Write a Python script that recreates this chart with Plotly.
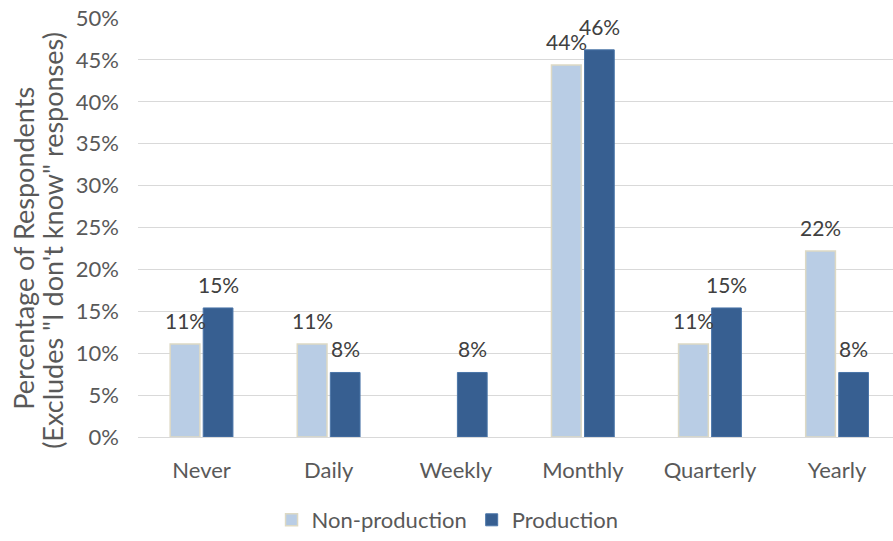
import plotly.graph_objects as go

categories = ["Never", "Daily", "Weekly", "Monthly", "Quarterly", "Yearly"]
non_production = [11.1, 11.1, 0.0, 44.4, 11.1, 22.2]
production = [15.4, 7.7, 7.7, 46.2, 15.4, 7.7]

def labels(vals):
    return [f"{round(v)}%" if v > 0 else "" for v in vals]

def heights(vals):
    return [v / 100 if v > 0 else None for v in vals]

FONT = "Lato, Carlito, Calibri, sans-serif"
TXT = "#595959"
FS = 22
BARGAP = 0.48
GROUPGAP = 0.1

fig = go.Figure()
fig.add_trace(go.Bar(
    name="Non-production", x=categories, y=heights(non_production),
    marker=dict(color="#B9CDE5", line=dict(color="#DDD9C4", width=1.5)),
))
fig.add_trace(go.Bar(
    name="Production", x=categories, y=heights(production),
    marker=dict(color="#375F91", line=dict(color="#4A75A8", width=1)),
))

# data labels placed above each bar of the group
slot = (1 - BARGAP) / 2
annotations = []
for series, offset in ((non_production, -slot / 2), (production, slot / 2)):
    for i, (v, t) in enumerate(zip(series, labels(series))):
        if not t:
            continue
        annotations.append(dict(
            x=i + offset, y=v / 100, xref="x", yref="y", text=t,
            showarrow=False, xanchor="center", yanchor="bottom", yshift=9,
            font=dict(size=21, color="#404040", family=FONT)))

# y-axis title (two lines)
for txt, xpx, ypx in (("Percentage of Respondents", 24, 251),
                      ("(Excludes \"I don't know\" responses)", 53, 243)):
    annotations.append(dict(
        text=txt, xref="paper", yref="paper",
        x=(xpx - 138) / 755, y=(441 - ypx) / 423,
        xanchor="center", yanchor="middle", textangle=-90, showarrow=False,
        font=dict(size=27, color=TXT, family=FONT)))

fig.update_layout(
    width=893, height=541,
    margin=dict(l=138, r=0, t=18, b=100),
    paper_bgcolor="white", plot_bgcolor="white",
    font=dict(family=FONT, size=FS, color=TXT),
    barmode="group", bargap=BARGAP, bargroupgap=GROUPGAP,
    showlegend=True,
    legend=dict(orientation="h", x=0.41, xanchor="center", y=-0.199, yanchor="middle",
                font=dict(size=FS, color=TXT, family=FONT), traceorder="normal"),
    xaxis=dict(range=[-0.5, 5.44], showgrid=False, showline=False, zeroline=False,
               ticks="", ticklabelstandoff=18, tickfont=dict(size=FS, color=TXT)),
    yaxis=dict(range=[0, 0.5], dtick=0.05, tickformat=".0%", showgrid=True,
               gridcolor="#D9D9D9", gridwidth=1.3, zeroline=True, zerolinecolor="#D9D9D9",
               zerolinewidth=1.3, ticks="", ticklabelstandoff=18,
               tickfont=dict(size=FS, color=TXT)),
    annotations=annotations,
)

fig.write_html("out.html")
